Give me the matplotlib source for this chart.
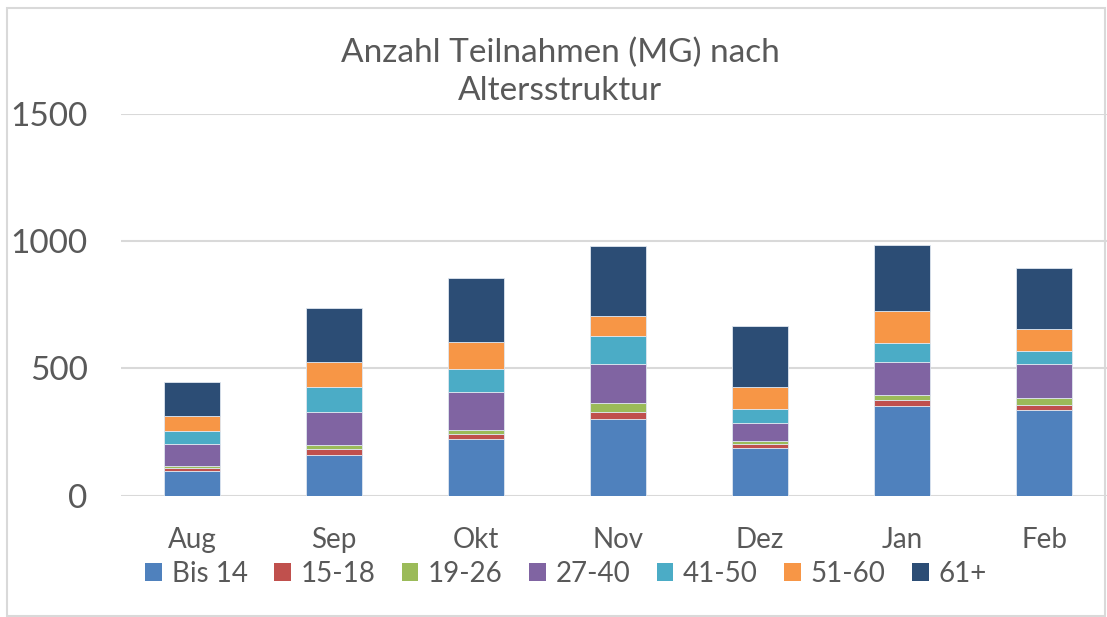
import matplotlib.pyplot as plt
import numpy as np
from matplotlib.patches import Patch, Rectangle

# Daten: Teilnahmen pro Monat nach Altersgruppe
monate = ["Aug", "Sep", "Okt", "Nov", "Dez", "Jan", "Feb"]
gruppen = ["Bis 14", "15-18", "19-26", "27-40", "41-50", "51-60", "61+"]
bis14 = [95, 161, 221, 300, 188, 351, 338]
g15_18 = [13, 21, 22, 29, 16, 24, 19]
g19_26 = [8, 16, 15, 35, 11, 21, 28]
g27_40 = [88, 132, 148, 155, 72, 127, 133]
g41_50 = [49, 97, 93, 110, 55, 75, 50]
g51_60 = [61, 97, 106, 78, 84, 126, 86]
g61plus = [132, 213, 250, 275, 239, 262, 239]
farben = ["#4F81BD", "#C0504D", "#9BBB59", "#8064A2", "#4BACC6", "#F79646", "#2C4D75"]
titel = ["Anzahl Teilnahmen (MG) nach", "Altersstruktur"]

plt.rcParams['font.family'] = ['Lato', 'DejaVu Sans']
textfarbe = "#595959"

fig = plt.figure(figsize=(11.07, 6.17), dpi=100)
ax = fig.add_axes([121 / 1107, 121.5 / 617, (1107 - 121) / 1107, 381.5 / 617])

x = np.arange(len(monate))
unten = np.zeros(len(monate))
for werte, farbe in zip([bis14, g15_18, g19_26, g27_40, g41_50, g51_60, g61plus], farben):
    ax.bar(x, werte, width=0.4, bottom=unten, color=farbe, edgecolor="#dfe6ef",
           linewidth=0.6, zorder=3)
    unten += np.array(werte)

ax.set_ylim(0, 1500)
ax.set_xlim(-0.5, 6.5 - 8 / 142)
ax.set_yticks([0, 500, 1000, 1500])
ax.set_xticks(x)
ax.set_xticklabels(monate)
ax.grid(True, axis="y", color="#d9d9d9", linewidth=1.5, zorder=0)
ax.set_axisbelow(True)
for s in ax.spines.values():
    s.set_visible(False)
ax.tick_params(axis="y", length=0, pad=24, labelsize=24, labelcolor=textfarbe)
ax.tick_params(axis="x", length=0, pad=23, labelsize=20, labelcolor=textfarbe)

# Titel in zwei Zeilen, Grundlinien wie im Original
for zeile, y_px in zip(titel, [62, 100]):
    fig.text(560 / 1107, 1 - y_px / 617, zeile, ha="center", va="baseline",
             fontsize=24, color=textfarbe)

griffe = [Patch(facecolor=f, edgecolor="none") for f in farben]
fig.legend(griffe, gruppen, loc="center", bbox_to_anchor=(566 / 1107, 1 - 574 / 617),
           ncol=7, frameon=False, fontsize=20, labelcolor=textfarbe,
           handlelength=0.6, handleheight=0.6, handletextpad=0.35, columnspacing=0.95)

fig.patches.append(Rectangle((7 / 1107, 1.5 / 617), 1098 / 1107, 607.5 / 617,
                             transform=fig.transFigure, fill=False,
                             edgecolor="#d9d9d9", linewidth=1.5))

fig.savefig("out.png", dpi=100)
